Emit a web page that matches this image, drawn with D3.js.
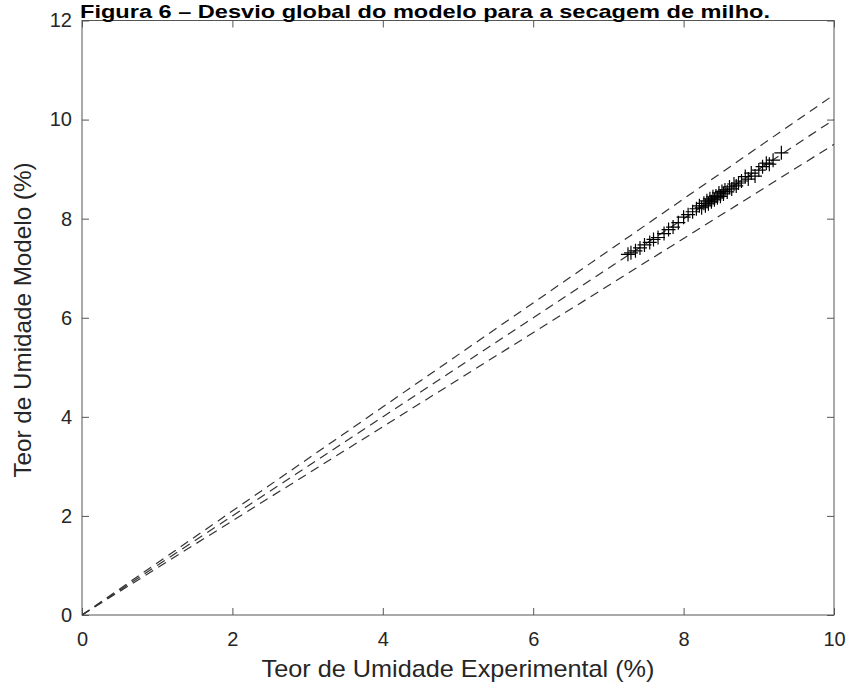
<!DOCTYPE html>
<html><head><meta charset="utf-8">
<script src="https://cdn.jsdelivr.net/npm/d3@7"></script>
<style>body{margin:0;background:#fff}svg{display:block}</style>
</head><body>
<svg id="c" width="851" height="689"></svg>
<script>
const titleText = "Figura 6 – Desvio global do modelo para a secagem de milho.";
const xLabel = "Teor de Umidade Experimental (%)";
const yLabel = "Teor de Umidade Modelo (%)";
const xTicks = [0, 2, 4, 6, 8, 10];
const yTicks = [0, 2, 4, 6, 8, 10, 12];
const refSlopes = [1.05, 1.0, 0.95];
const experimental = [7.26, 7.30, 7.36, 7.42, 7.48, 7.55, 7.60, 7.66, 7.74, 7.80, 7.86, 7.93, 8.00, 8.06, 8.12, 8.17, 8.21, 8.24, 8.27, 8.29, 8.31, 8.33, 8.35, 8.37, 8.39, 8.41, 8.43, 8.45, 8.47, 8.49, 8.51, 8.53, 8.55, 8.58, 8.61, 8.64, 8.67, 8.70, 8.73, 8.77, 8.82, 8.86, 8.90, 8.95, 9.00, 9.05, 9.10, 9.14, 9.19, 9.30];
const model = [7.28, 7.31, 7.35, 7.41, 7.47, 7.52, 7.58, 7.62, 7.70, 7.78, 7.83, 7.92, 8.03, 8.08, 8.14, 8.20, 8.26, 8.22, 8.31, 8.26, 8.36, 8.30, 8.40, 8.34, 8.44, 8.38, 8.46, 8.42, 8.52, 8.45, 8.55, 8.50, 8.58, 8.54, 8.64, 8.60, 8.70, 8.66, 8.72, 8.76, 8.85, 8.80, 8.92, 8.86, 8.98, 9.05, 9.12, 9.10, 9.18, 9.33];

const svg = d3.select("#c");
const L = 82, R = 834, T = 20.5, B = 615;
const x = d3.scaleLinear().domain([0, 10]).range([L, R]);
const y = d3.scaleLinear().domain([0, 12]).range([B, T]);
const font = "'Liberation Sans', Arial, Helvetica, sans-serif";
const axisColor = "#262626";
const tickLen = 7;

svg.append("rect").attr("x", L).attr("y", T).attr("width", R - L).attr("height", B - T)
  .attr("fill", "none").attr("stroke", "#555").attr("stroke-width", 1);

function styleAxis(g, hideText) {
  g.select(".domain").remove();
  g.selectAll(".tick line").attr("stroke", "#555");
  g.selectAll(".tick text").attr("fill", axisColor).style("font-family", font).style("font-size", "20px");
  if (hideText) g.selectAll(".tick text").remove();
}
svg.append("g").attr("transform", `translate(0,${B})`)
  .call(d3.axisBottom(x).tickValues(xTicks).tickSize(-tickLen).tickPadding(17).tickFormat(d3.format("d")))
  .call(g => styleAxis(g, false));
svg.append("g").attr("transform", `translate(0,${T})`)
  .call(d3.axisTop(x).tickValues(xTicks).tickSize(-tickLen).tickFormat(d3.format("d")))
  .call(g => styleAxis(g, true));
svg.append("g").attr("transform", `translate(${L},0)`)
  .call(d3.axisLeft(y).tickValues(yTicks).tickSize(-tickLen).tickPadding(10).tickFormat(d3.format("d")))
  .call(g => styleAxis(g, false));
svg.append("g").attr("transform", `translate(${R},0)`)
  .call(d3.axisRight(y).tickValues(yTicks).tickSize(-tickLen).tickFormat(d3.format("d")))
  .call(g => styleAxis(g, true));

svg.append("clipPath").attr("id", "pc").append("rect")
  .attr("x", L).attr("y", T).attr("width", R - L).attr("height", B - T);
const plot = svg.append("g").attr("clip-path", "url(#pc)");
refSlopes.forEach(s => {
  plot.append("line").attr("x1", x(0)).attr("y1", y(0)).attr("x2", x(10)).attr("y2", y(10 * s))
    .attr("stroke", "#333").attr("stroke-width", 1.2).attr("stroke-dasharray", "9,6");
});

const pts = experimental.map((e, i) => [e, model[i]]);
const ms = 7;
plot.selectAll("path.pt").data(pts).enter().append("path").attr("class", "pt")
  .attr("d", d => `M${x(d[0]) - ms},${y(d[1])}H${x(d[0]) + ms}M${x(d[0])},${y(d[1]) - ms}V${y(d[1]) + ms}`)
  .attr("stroke", "#000").attr("stroke-width", 1.2).attr("fill", "none");

svg.append("text").attr("x", 458).attr("y", 677).attr("text-anchor", "middle")
  .style("font-family", font).style("font-size", "24px").attr("fill", axisColor)
  .attr("textLength", 393).attr("lengthAdjust", "spacingAndGlyphs").text(xLabel);
svg.append("text").attr("transform", `translate(31,320) rotate(-90)`).attr("text-anchor", "middle")
  .style("font-family", font).style("font-size", "24px").attr("fill", axisColor)
  .attr("textLength", 315).attr("lengthAdjust", "spacingAndGlyphs").text(yLabel);
svg.append("text").attr("x", 425).attr("y", 18).attr("text-anchor", "middle")
  .style("font-family", font).style("font-size", "19px").style("font-weight", "bold").attr("fill", "#000")
  .attr("textLength", 690).attr("lengthAdjust", "spacingAndGlyphs").text(titleText);
</script>
</body></html>
